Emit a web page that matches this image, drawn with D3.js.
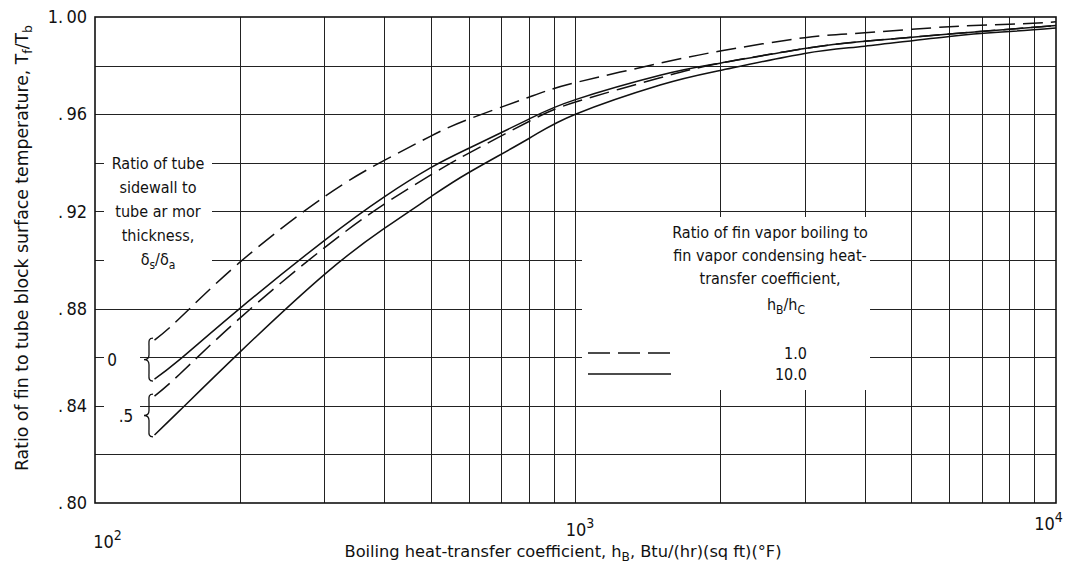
<!DOCTYPE html>
<html>
<head>
<meta charset="utf-8">
<script src="https://cdn.jsdelivr.net/npm/d3@7"></script>
<style>
  html, body { margin: 0; padding: 0; background: #fff; }
  svg { display: block; }
  text { font-family: "Liberation Sans Narrow", "DejaVu Sans Condensed", "Roboto Condensed", sans-serif; fill: #111; }
</style>
</head>
<body>
<svg id="chart" width="1069" height="565"></svg>
<script>
// Boiling heat-transfer coefficient, Btu/(hr)(sq ft)(°F)
const hValues = [133, 150, 200, 300, 400, 500, 600, 800, 1000, 1500, 2000, 3000, 4000, 6000, 8000, 10000];

// Tf/Tb for each combination of sidewall ratio and hB/hC
const ratioSide0Hb1  = [0.867, 0.876, 0.899, 0.926, 0.941, 0.951, 0.958, 0.967, 0.973, 0.981, 0.986, 0.9915, 0.9935, 0.996, 0.997, 0.998];
const ratioSide0Hb10 = [0.851, 0.859, 0.880, 0.908, 0.926, 0.938, 0.946, 0.958, 0.966, 0.976, 0.981, 0.987, 0.990, 0.993, 0.995, 0.9965];
const ratioSide5Hb1  = [0.844, 0.853, 0.876, 0.905, 0.923, 0.935, 0.944, 0.957, 0.965, 0.975, 0.981, 0.987, 0.990, 0.993, 0.995, 0.9965];
const ratioSide5Hb10 = [0.828, 0.838, 0.862, 0.894, 0.913, 0.926, 0.936, 0.950, 0.960, 0.972, 0.978, 0.985, 0.988, 0.992, 0.994, 0.9955];

const yTickValues = [0.80, 0.84, 0.88, 0.92, 0.96, 1.00];
const yGridValues = [0.82, 0.84, 0.86, 0.88, 0.90, 0.92, 0.94, 0.96, 0.98];
const xTickExponents = [2, 3, 4];
const xGridValues = [200, 300, 400, 500, 600, 700, 800, 900, 1000, 2000, 3000, 4000, 5000, 6000, 7000, 8000, 9000];

const series = [
  { name: "0, 1.0",  values: ratioSide0Hb1,  dashed: true },
  { name: "0, 10.0", values: ratioSide0Hb10, dashed: false },
  { name: ".5, 1.0", values: ratioSide5Hb1,  dashed: true },
  { name: ".5, 10.0", values: ratioSide5Hb10, dashed: false }
];

const legendItems = [
  { label: "1.0", dashed: true },
  { label: "10.0", dashed: false }
];

const svg = d3.select("#chart");
const plot = { left: 95, right: 1056, top: 17, bottom: 503 };

const x = d3.scaleLog().domain([100, 10000]).range([plot.left, plot.right]);
const y = d3.scaleLinear().domain([0.80, 1.00]).range([plot.bottom, plot.top]);

// Areas kept free of grid lines so the annotations read cleanly
const defs = svg.append("defs");
const mask = defs.append("mask").attr("id", "gridMask").attr("maskUnits", "userSpaceOnUse")
  .attr("x", 0).attr("y", 0).attr("width", 1069).attr("height", 565);
mask.append("rect").attr("x", 0).attr("y", 0).attr("width", 1069).attr("height", 565).attr("fill", "#fff");
const clearBoxes = [
  [104, 150, 212, 268],   // sidewall ratio note
  [104, 345, 140, 420],   // brace labels
  [582, 217, 870, 390]    // hB/hC legend
];
clearBoxes.forEach(([x0, y0, x1, y1]) => {
  mask.append("rect").attr("x", x0).attr("y", y0).attr("width", x1 - x0).attr("height", y1 - y0).attr("fill", "#000");
});

// Grid
const grid = svg.append("g").attr("mask", "url(#gridMask)")
  .attr("stroke", "#222").attr("stroke-width", 1).attr("shape-rendering", "crispEdges");
grid.selectAll("line.h").data(yGridValues).join("line")
  .attr("class", "h")
  .attr("x1", plot.left).attr("x2", plot.right)
  .attr("y1", d => Math.round(y(d)) + 0.5).attr("y2", d => Math.round(y(d)) + 0.5);
grid.selectAll("line.v").data(xGridValues).join("line")
  .attr("class", "v")
  .attr("y1", plot.top).attr("y2", plot.bottom)
  .attr("x1", d => Math.round(x(d)) + 0.5).attr("x2", d => Math.round(x(d)) + 0.5);

// Frame
svg.append("rect")
  .attr("x", plot.left).attr("y", plot.top)
  .attr("width", plot.right - plot.left).attr("height", plot.bottom - plot.top)
  .attr("fill", "none").attr("stroke", "#111").attr("stroke-width", 1.6);

// Axes
const yAxis = d3.axisLeft(y).tickValues(yTickValues).tickSize(0).tickPadding(8)
  .tickFormat(d => d === 1 ? "1.\u200900" : ".\u2009" + d.toFixed(2).slice(2));
svg.append("g").attr("transform", `translate(${plot.left},0)`).call(yAxis)
  .call(g => g.select(".domain").remove())
  .call(g => g.selectAll("text").style("font-size", "18px").attr("fill", "#111"));

const xAxis = d3.axisBottom(x).tickValues(xTickExponents.map(e => Math.pow(10, e))).tickSize(0).tickPadding(20)
  .tickFormat(() => "");
const xg = svg.append("g").attr("transform", `translate(0,${plot.bottom})`).call(xAxis)
  .call(g => g.select(".domain").remove());
xg.selectAll(".tick text").each(function (d, i) {
  const t = d3.select(this).style("font-size", "18px").attr("fill", "#111");
  t.text(null);
  t.append("tspan").text("10");
  t.append("tspan").attr("dy", "-0.55em").style("font-size", "14px").text(String(xTickExponents[i]));
  const dx = i === 0 ? 12 : (i === 1 ? 4 : -8);
  const dy = i === 0 ? 12 : (i === 1 ? 0 : -6);
  t.attr("transform", `translate(${dx},${dy})`);
});

// Axis titles
const xt = svg.append("text").attr("x", 563).attr("y", 557).attr("text-anchor", "middle")
  .attr("textLength", 437).attr("lengthAdjust", "spacingAndGlyphs").style("font-size", "16px");
xt.append("tspan").text("Boiling heat-transfer coefficient,  h");
xt.append("tspan").attr("dy", 4).style("font-size", "12px").text("B");
xt.append("tspan").attr("dy", -4).text(",  Btu/(hr)(sq ft)(\u00B0F)");

const yt = svg.append("text").attr("transform", "translate(28,248) rotate(-90)").attr("text-anchor", "middle")
  .attr("textLength", 446).attr("lengthAdjust", "spacingAndGlyphs").style("font-size", "18px");
yt.append("tspan").text("Ratio of fin to tube block surface temperature,  T");
yt.append("tspan").attr("dy", 4).style("font-size", "13px").text("f");
yt.append("tspan").attr("dy", -4).text("/T");
yt.append("tspan").attr("dy", 4).style("font-size", "13px").text("b");

// Curves
const line = d3.line().x(d => x(d[0])).y(d => y(d[1])).curve(d3.curveNatural);
svg.append("g").selectAll("path").data(series).join("path")
  .attr("d", s => line(hValues.map((h, i) => [h, s.values[i]])))
  .attr("fill", "none").attr("stroke", "#111").attr("stroke-width", 1.5)
  .attr("stroke-dasharray", s => s.dashed ? "20,8" : null);

// Sidewall ratio note
const noteLines = ["Ratio of tube", "sidewall to", "tube ar mor", "thickness,"];
const note = svg.append("g").style("font-size", "16px");
noteLines.forEach((s, i) => {
  note.append("text").attr("x", 158).attr("y", 169 + i * 24).attr("text-anchor", "middle").text(s);
});
const delta = note.append("text").attr("x", 158).attr("y", 265).attr("text-anchor", "middle");
delta.append("tspan").text("\u03B4");
delta.append("tspan").attr("dy", 4).style("font-size", "12px").text("s");
delta.append("tspan").attr("dy", -4).text("/\u03B4");
delta.append("tspan").attr("dy", 4).style("font-size", "12px").text("a");

// Braces grouping the curve pairs by sidewall ratio
function brace(x0, y0, y1) {
  const m = (y0 + y1) / 2, w = 5;
  return `M${x0 + w},${y0} C${x0},${y0} ${x0 + 1},${y0 + 4} ${x0 + 1},${y0 + 8} L${x0 + 1},${m - 5} ` +
    `C${x0 + 1},${m - 1} ${x0 - 2},${m} ${x0 - 4},${m} C${x0 - 2},${m} ${x0 + 1},${m + 1} ${x0 + 1},${m + 5} ` +
    `L${x0 + 1},${y1 - 8} C${x0 + 1},${y1 - 4} ${x0},${y1} ${x0 + w},${y1}`;
}
const bracePairs = [
  { label: "0", top: ratioSide0Hb1[0], bottom: ratioSide0Hb10[0], lx: 112 },
  { label: ".5", top: ratioSide5Hb1[0], bottom: ratioSide5Hb10[0], lx: 126 }
];
bracePairs.forEach(b => {
  const y0 = y(b.top) - 2, y1 = y(b.bottom) + 2;
  svg.append("path").attr("d", brace(148, y0, y1)).attr("fill", "none").attr("stroke", "#111").attr("stroke-width", 1.3);
  svg.append("text").attr("x", b.lx).attr("y", (y0 + y1) / 2 + 6).attr("text-anchor", "middle").style("font-size", "17px").text(b.label);
});

// Legend
const legendTitle = ["Ratio of fin vapor boiling to", "fin vapor condensing heat-", "transfer coefficient,"];
const lg = svg.append("g").style("font-size", "16px");
legendTitle.forEach((s, i) => {
  lg.append("text").attr("x", 770).attr("y", 238 + i * 23).attr("text-anchor", "middle").text(s);
});
const hb = lg.append("text").attr("x", 786).attr("y", 310).attr("text-anchor", "middle");
hb.append("tspan").text("h");
hb.append("tspan").attr("dy", 4).style("font-size", "12px").text("B");
hb.append("tspan").attr("dy", -4).text("/h");
hb.append("tspan").attr("dy", 4).style("font-size", "12px").text("C");

legendItems.forEach((item, i) => {
  const ly = 353 + i * 21;
  lg.append("line").attr("x1", 588).attr("x2", 671).attr("y1", ly).attr("y2", ly)
    .attr("stroke", "#111").attr("stroke-width", 1.3)
    .attr("stroke-dasharray", item.dashed ? "22,8" : null);
  lg.append("text").attr("x", 807).attr("y", ly + 6).attr("text-anchor", "end").text(item.label);
});
</script>
</body>
</html>
